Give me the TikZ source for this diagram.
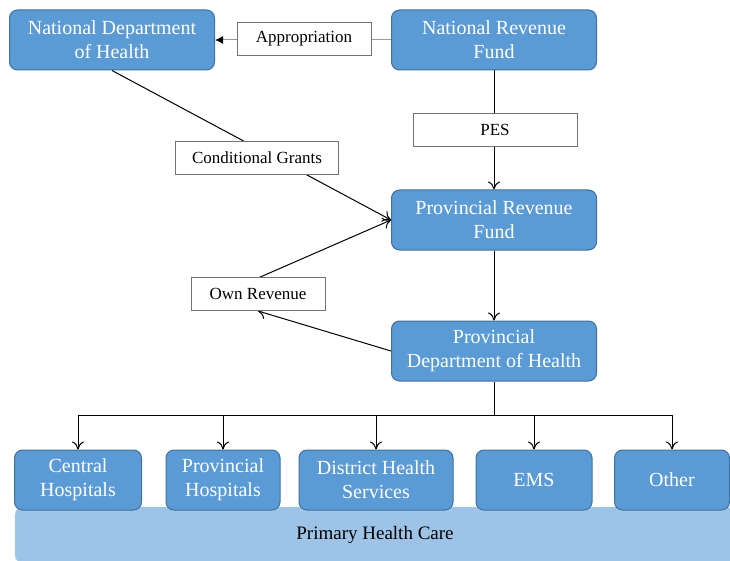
\documentclass[tikz,border=0pt]{standalone}
\usepackage{fontspec}
\setmainfont{Liberation Serif}
\usetikzlibrary{arrows.meta}

\definecolor{boxblue}{HTML}{5B9BD5}
\definecolor{boxedge}{HTML}{41719C}
\definecolor{careblue}{HTML}{9DC3E6}
\definecolor{careedge}{HTML}{BDD7EE}

\tikzset{
  fundbox/.style={draw=boxedge, line width=1pt, fill=boxblue, rounded corners=8pt, text=white, align=center,
    minimum width=205pt, minimum height=60pt, font=\fontsize{20}{24}\selectfont},
  unitbox/.style={fundbox, minimum height=60pt},
  labelbox/.style={draw=black!55, fill=white, line width=.8pt, minimum height=33pt, font=\fontsize{17}{20}\selectfont},
  flow/.style={-{To[length=8pt,width=12pt]}, line width=1pt}
}

\begin{document}
\begin{tikzpicture}[x=1pt, y=-1pt]

\path [use as bounding box, clip] (0,0) rectangle (730,561);

% primary health care band
\node [draw=careedge, fill=careblue, rounded corners=8pt, minimum width=720pt, minimum height=56pt,
  font=\fontsize{19}{22}\selectfont] (phc) at (375,535) {Primary Health Care};

% funds and departments
\node [fundbox] (ndoh) at (112,40) {National Department\\of Health};
\node [fundbox] (nrf) at (494,40) {National Revenue\\Fund};
\node [fundbox] (prf) at (494,220) {Provincial Revenue\\Fund};
\node [fundbox] (pdoh) at (494,351) {Provincial\\Department of Health};

% spending units
\node [unitbox, minimum width=127pt] (central) at (78,480) {Central\\Hospitals};
\node [unitbox, minimum width=114pt] (provhosp) at (223,480) {Provincial\\Hospitals};
\node [unitbox, minimum width=154pt] (district) at (376,480) {District Health\\Services};
\node [unitbox, minimum width=116pt] (ems) at (534,480) {EMS};
\node [unitbox, minimum width=115pt] (other) at (672,480) {Other};

% flows
\draw [line width=1pt, black!40, -{Latex[length=8pt,width=8pt,black]}] (nrf) -- (ndoh);
\draw [flow] (nrf) -- (prf);
\draw [flow] (ndoh.south) -- (prf.west);
\draw [flow] (258,278) -- (prf.west);
\draw [flow] (pdoh.west) -- (258,311);
\draw [flow] (prf) -- (pdoh);

% labels on the flows
\node [labelbox, minimum width=134pt] (approp) at (304,39) {Appropriation};
\node [labelbox, minimum width=164pt] (pes) at (495,130) {PES};
\node [labelbox, minimum width=163pt] (cgrants) at (257,158) {Conditional Grants};
\node [labelbox, minimum width=134pt] (orev) at (258,294) {Own Revenue};

% split to spending units
\coordinate (bus) at (494,415);
\draw [line width=1pt] (pdoh.south) -- (bus);
\draw [line width=1pt] (central.north |- bus) -- (other.north |- bus);
\foreach \unit in {central, provhosp, district, ems, other}
  \draw [flow] (\unit.north |- bus) -- (\unit.north);

\end{tikzpicture}
\end{document}
